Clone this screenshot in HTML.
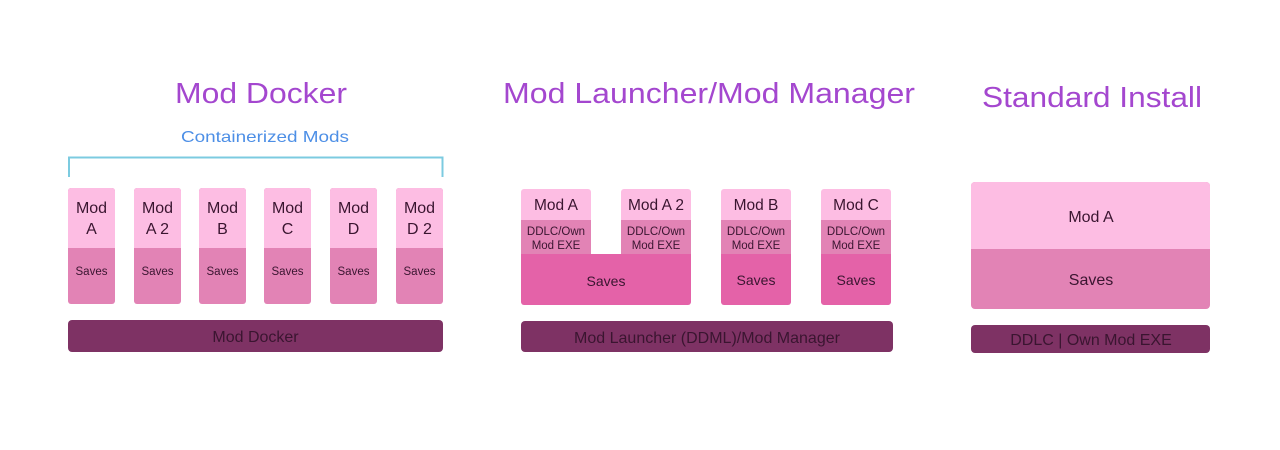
<!DOCTYPE html>
<html><head><meta charset="utf-8"><style>
html,body{margin:0;padding:0;background:#fff;width:1280px;height:450px;overflow:hidden}
svg text{font-family:"Liberation Sans","DejaVu Sans",sans-serif}
</style></head><body>
<svg width="1280" height="450" viewBox="0 0 1280 450" xmlns="http://www.w3.org/2000/svg">
<g fill="#a447cf" font-size="29">
<text x="175" y="103" textLength="172" lengthAdjust="spacingAndGlyphs">Mod Docker</text>
<text x="503" y="103" textLength="412" lengthAdjust="spacingAndGlyphs">Mod Launcher/Mod Manager</text>
<text x="982" y="107" textLength="220" lengthAdjust="spacingAndGlyphs">Standard Install</text>
</g>
<text x="181" y="142" font-size="16" fill="#4d8fe6" textLength="168" lengthAdjust="spacingAndGlyphs">Containerized Mods</text>
<path d="M69 177 V157.5 H442.5 V177" fill="none" stroke="#7ccbe0" stroke-width="2"/>

<!-- Docker columns -->
<g font-size="16" fill="#3a1530" text-anchor="middle">
<g id="c">
</g>
</g>
<g text-anchor="middle" fill="#3a1530">
<!-- columns generated manually -->
<rect x="68" y="188" width="47" height="116" rx="3" fill="#e283b5"/><rect x="68" y="188" width="47" height="60" rx="3" fill="#fdbde3"/><rect x="68" y="244" width="47" height="4" fill="#fdbde3"/>
<text x="91.5" y="213" font-size="16">Mod</text><text x="91.5" y="234" font-size="16">A</text><text x="91.5" y="275" font-size="11.5">Saves</text>

<rect x="134" y="188" width="47" height="116" rx="3" fill="#e283b5"/><rect x="134" y="188" width="47" height="60" rx="3" fill="#fdbde3"/><rect x="134" y="244" width="47" height="4" fill="#fdbde3"/>
<text x="157.5" y="213" font-size="16">Mod</text><text x="157.5" y="234" font-size="16">A 2</text><text x="157.5" y="275" font-size="11.5">Saves</text>

<rect x="199" y="188" width="47" height="116" rx="3" fill="#e283b5"/><rect x="199" y="188" width="47" height="60" rx="3" fill="#fdbde3"/><rect x="199" y="244" width="47" height="4" fill="#fdbde3"/>
<text x="222.5" y="213" font-size="16">Mod</text><text x="222.5" y="234" font-size="16">B</text><text x="222.5" y="275" font-size="11.5">Saves</text>

<rect x="264" y="188" width="47" height="116" rx="3" fill="#e283b5"/><rect x="264" y="188" width="47" height="60" rx="3" fill="#fdbde3"/><rect x="264" y="244" width="47" height="4" fill="#fdbde3"/>
<text x="287.5" y="213" font-size="16">Mod</text><text x="287.5" y="234" font-size="16">C</text><text x="287.5" y="275" font-size="11.5">Saves</text>

<rect x="330" y="188" width="47" height="116" rx="3" fill="#e283b5"/><rect x="330" y="188" width="47" height="60" rx="3" fill="#fdbde3"/><rect x="330" y="244" width="47" height="4" fill="#fdbde3"/>
<text x="353.5" y="213" font-size="16">Mod</text><text x="353.5" y="234" font-size="16">D</text><text x="353.5" y="275" font-size="11.5">Saves</text>

<rect x="396" y="188" width="47" height="116" rx="3" fill="#e283b5"/><rect x="396" y="188" width="47" height="60" rx="3" fill="#fdbde3"/><rect x="396" y="244" width="47" height="4" fill="#fdbde3"/>
<text x="419.5" y="213" font-size="16">Mod</text><text x="419.5" y="234" font-size="16">D 2</text><text x="419.5" y="275" font-size="11.5">Saves</text>

<rect x="68" y="320" width="375" height="32" rx="4" fill="#7e3264"/>
<text x="255.5" y="342" font-size="16">Mod Docker</text>

<!-- Launcher -->
<rect x="521" y="189" width="70" height="70" rx="3" fill="#fdbde3"/><rect x="521" y="220" width="70" height="40" fill="#e283b5"/>
<rect x="621" y="189" width="70" height="70" rx="3" fill="#fdbde3"/><rect x="621" y="220" width="70" height="40" fill="#e283b5"/>
<rect x="721" y="189" width="70" height="70" rx="3" fill="#fdbde3"/><rect x="721" y="220" width="70" height="40" fill="#e283b5"/>
<rect x="821" y="189" width="70" height="70" rx="3" fill="#fdbde3"/><rect x="821" y="220" width="70" height="40" fill="#e283b5"/>
<rect x="521" y="254" width="170" height="51" rx="3" fill="#e462a8"/><rect x="521" y="254" width="170" height="6" fill="#e462a8"/>
<rect x="721" y="254" width="70" height="51" rx="3" fill="#e462a8"/><rect x="721" y="254" width="70" height="6" fill="#e462a8"/>
<rect x="821" y="254" width="70" height="51" rx="3" fill="#e462a8"/><rect x="821" y="254" width="70" height="6" fill="#e462a8"/>
<g font-size="15.5"><text x="556" y="210">Mod A</text><text x="656" y="210">Mod A 2</text><text x="756" y="210">Mod B</text><text x="856" y="210">Mod C</text></g>
<g font-size="11.5">
<text x="556" y="235">DDLC/Own</text><text x="556" y="249">Mod EXE</text>
<text x="656" y="235">DDLC/Own</text><text x="656" y="249">Mod EXE</text>
<text x="756" y="235">DDLC/Own</text><text x="756" y="249">Mod EXE</text>
<text x="856" y="235">DDLC/Own</text><text x="856" y="249">Mod EXE</text>
</g>
<g font-size="14"><text x="606" y="286">Saves</text><text x="756" y="285">Saves</text><text x="856" y="285">Saves</text></g>
<rect x="521" y="321" width="372" height="31" rx="4" fill="#7e3264"/>
<text x="707" y="343" font-size="16">Mod Launcher (DDML)/Mod Manager</text>

<!-- Standard -->
<rect x="971" y="182" width="239" height="127" rx="4" fill="#e283b5"/>
<rect x="971" y="182" width="239" height="67" rx="4" fill="#fdbde3"/><rect x="971" y="244" width="239" height="5" fill="#fdbde3"/>
<text x="1091" y="222" font-size="16">Mod A</text>
<text x="1091" y="285" font-size="16">Saves</text>
<rect x="971" y="325" width="239" height="28" rx="4" fill="#7e3264"/>
<text x="1091" y="345" font-size="16">DDLC | Own Mod EXE</text>
</g>
</svg>
</body></html>
